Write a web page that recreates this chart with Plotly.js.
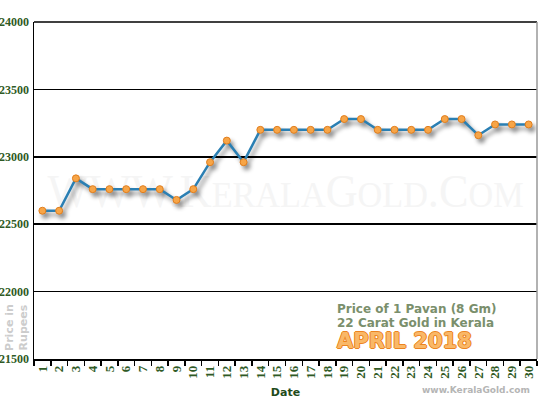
<!DOCTYPE html>
<html>
<head>
<meta charset="utf-8">
<script src="https://cdn.plot.ly/plotly-3.0.1.min.js"></script>
<style>
html,body{margin:0;padding:0;background:#fff;}
#chart{width:550px;height:400px;}
.scatterlayer .trace{filter:drop-shadow(3px 4px 2px rgba(0,0,0,0.45));}
</style>
</head>
<body>
<div id="chart"></div>
<script>
// Data
var days = ["1","2","3","4","5","6","7","8","9","10","11","12","13","14","15","16","17","18","19","20","21","22","23","24","25","26","27","28","29","30"];
var prices = [22600,22600,22840,22760,22760,22760,22760,22760,22680,22760,22960,23120,22960,23200,23200,23200,23200,23200,23280,23280,23200,23200,23200,23200,23280,23280,23160,23240,23240,23240];
var yTicks = [21500,22000,22500,23000,23500,24000];
var titleLine1 = "Price of 1 Pavan (8 Gm)";
var titleLine2 = "22 Carat Gold in Kerala";
var monthLabel = "APRIL 2018";
var siteLabel = "www.KeralaGold.com";

var green = "#2f5a25";

var wmSvg = '<svg xmlns="http://www.w3.org/2000/svg" width="500" height="50">' +
  '<text x="250" y="40" text-anchor="middle" font-family="Liberation Serif, DejaVu Serif, serif" font-size="44" fill="#f5f5f5">' +
  'WWW.K<tspan font-size="34">ERALA</tspan>G<tspan font-size="34">OLD</tspan>.C<tspan font-size="34">OM</tspan></text></svg>';
var wmUri = 'data:image/svg+xml;charset=utf-8,' + encodeURIComponent(wmSvg);

var trace = {
  x: days,
  y: prices,
  type: 'scatter',
  mode: 'lines+markers',
  line: {color: '#2a7fb3', width: 2.5},
  marker: {color: '#f7a547', size: 7, line: {color: '#e07d1c', width: 1}},
  hoverinfo: 'skip'
};

var layout = {
  width: 550, height: 400,
  margin: {l: 34, r: 13, t: 22, b: 41, pad: 0},
  paper_bgcolor: '#ffffff',
  plot_bgcolor: 'rgba(0,0,0,0)',
  showlegend: false,
  xaxis: {
    type: 'category',
    range: [-0.5, days.length - 0.5],
    autorange: false,
    tickson: 'boundaries',
    ticks: 'outside', ticklen: 5, tickcolor: '#000', tickwidth: 1.5,
    showgrid: false,
    showline: true, linecolor: '#000', linewidth: 1.5,
    tickangle: -90,
    tickfont: {family: 'Liberation Serif, DejaVu Serif, serif', size: 13, color: green, weight: 'bold'},
    title: {text: 'Date', font: {family: 'DejaVu Sans, Verdana, sans-serif', size: 11, color: '#1f4a1a', weight: 'bold'}, standoff: 10},
    automargin: false,
    fixedrange: true
  },
  yaxis: {
    range: [21500, 24000],
    tickvals: yTicks,
    ticktext: yTicks.map(String),
    ticks: '',
    showgrid: true, gridcolor: '#000', gridwidth: 1.5,
    showline: true, linecolor: '#000', linewidth: 1.5,
    zeroline: false,
    tickfont: {family: 'Liberation Serif, DejaVu Serif, serif', size: 12, color: green, weight: 'bold'},
    ticklabelstandoff: 1,
    automargin: false,
    fixedrange: true
  },
  shapes: [
    {type: 'line', xref: 'paper', yref: 'paper', x0: 0, x1: 1, y0: 1, y1: 1, line: {color: '#000', width: 1.5}},
    {type: 'line', xref: 'paper', yref: 'paper', x0: 1, x1: 1, y0: 0, y1: 1, line: {color: '#999', width: 1.5}}
  ],
  images: [{
    source: wmUri, xref: 'paper', yref: 'paper',
    x: 0.5, y: 0.50, sizex: 1.0, sizey: 0.16,
    xanchor: 'center', yanchor: 'middle', layer: 'below', sizing: 'contain'
  }],
  annotations: [
    {text: 'Price in<br>Rupees', xref: 'paper', yref: 'paper', x: -0.034, y: 0.095,
     xanchor: 'center', yanchor: 'middle', textangle: -90, showarrow: false,
     font: {family: 'DejaVu Sans, Verdana, sans-serif', size: 11, color: '#cccccc', weight: 'bold'}},
    {text: titleLine1, xref: 'paper', yref: 'paper', x: 0.598, y: 0.147, xanchor: 'left', yanchor: 'middle', showarrow: false,
     font: {family: 'DejaVu Sans, Verdana, sans-serif', size: 12, color: '#7a8f6c', weight: 'bold'}},
    {text: titleLine2, xref: 'paper', yref: 'paper', x: 0.598, y: 0.106, xanchor: 'left', yanchor: 'middle', showarrow: false,
     font: {family: 'DejaVu Sans, Verdana, sans-serif', size: 12, color: '#7a8f6c', weight: 'bold'}},
    {text: monthLabel, xref: 'paper', yref: 'paper', x: 0.598, y: 0.053, xanchor: 'left', yanchor: 'middle', showarrow: false,
     font: {family: 'DejaVu Sans, Verdana, sans-serif', size: 21, color: '#f9b868', weight: 'bold',
            shadow: '1px 0 #ec8420, -1px 0 #ec8420, 0 1px #ec8420, 0 -1px #ec8420'}},
    {text: siteLabel, xref: 'paper', yref: 'paper', x: 0.99, y: -0.092, xanchor: 'right', yanchor: 'middle', showarrow: false,
     font: {family: 'DejaVu Sans, Verdana, sans-serif', size: 9, color: '#b5b5b5', weight: 'bold'}}
  ]
};

Plotly.newPlot('chart', [trace], layout, {displayModeBar: false, staticPlot: true});
</script>
</body>
</html>
